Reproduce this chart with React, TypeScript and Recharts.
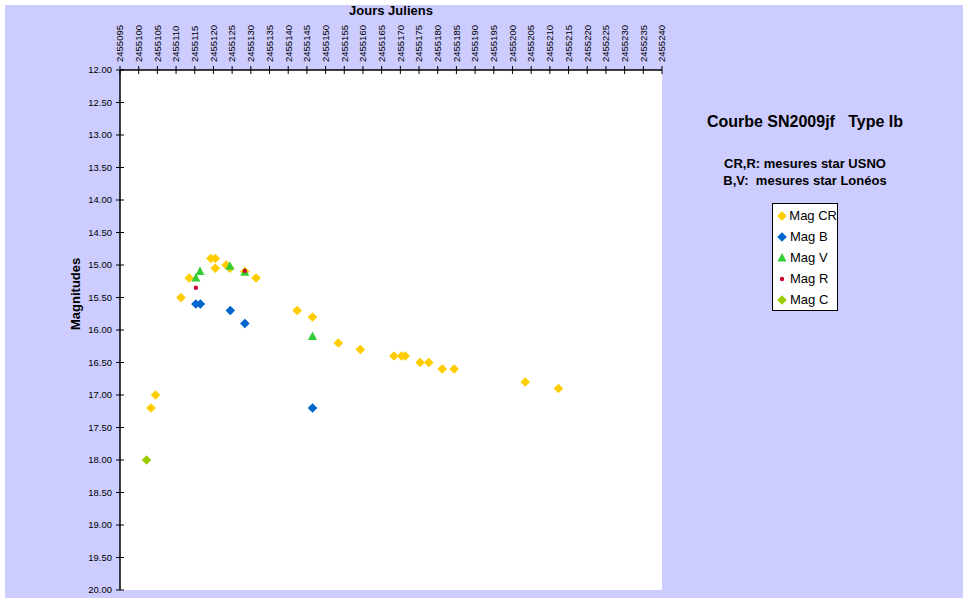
import React from 'react';
import { ScatterChart, Scatter, XAxis, YAxis, CartesianGrid, Legend } from 'recharts';

// Julian days / magnitudes per filter
const crDays = [2455103.3, 2455104.5, 2455111.3, 2455113.5, 2455119.3, 2455120.5, 2455120.5, 2455123.4, 2455124.4, 2455128.4, 2455131.4, 2455142.4, 2455146.5, 2455153.4, 2455159.3, 2455168.3, 2455170.3, 2455171.3, 2455175.3, 2455177.6, 2455181.2, 2455184.4, 2455203.4, 2455212.3];
const crMags = [17.2, 17.0, 15.5, 15.2, 14.9, 14.9, 15.05, 15.0, 15.05, 15.1, 15.2, 15.7, 15.8, 16.2, 16.3, 16.4, 16.4, 16.4, 16.5, 16.5, 16.6, 16.6, 16.8, 16.9];
const bDays = [2455115.3, 2455116.5, 2455124.5, 2455128.4, 2455146.5];
const bMags = [15.6, 15.6, 15.7, 15.9, 17.2];
const vDays = [2455115.3, 2455116.4, 2455124.4, 2455128.4, 2455146.5];
const vMags = [15.2, 15.1, 15.02, 15.11, 16.1];
const rDays = [2455115.3, 2455128.4];
const rMags = [15.35, 15.09];
const cDays = [2455102.1];
const cMags = [18.0];

const seriesNames = ['Mag CR', 'Mag B', 'Mag V', 'Mag R', 'Mag C'];
const dayTicks = [2455095, 2455100, 2455105, 2455110, 2455115, 2455120, 2455125, 2455130, 2455135, 2455140, 2455145, 2455150, 2455155, 2455160, 2455165, 2455170, 2455175, 2455180, 2455185, 2455190, 2455195, 2455200, 2455205, 2455210, 2455215, 2455220, 2455225, 2455230, 2455235, 2455240];
const magTicks = [12, 12.5, 13, 13.5, 14, 14.5, 15, 15.5, 16, 16.5, 17, 17.5, 18, 18.5, 19, 19.5, 20];

const toPoints = (days: number[], mags: number[]) => days.map((jd, i) => ({ jd, mag: mags[i] }));

const FONT = '"Liberation Sans", Arial, sans-serif';
const PLOT_LEFT = 120;
const PLOT_TOP = 70;

const colors: { [k: string]: string } = {
  'Mag CR': '#FFCC00',
  'Mag B': '#0066CC',
  'Mag V': '#33CC33',
  'Mag R': '#CC0033',
  'Mag C': '#99CC00',
};

const Marker = ({ name, cx, cy }: { name: string; cx: number; cy: number }) => {
  const c = colors[name];
  if (name === 'Mag V') {
    return <polygon points={`${cx},${cy - 5} ${cx + 4.5},${cy + 3.5} ${cx - 4.5},${cy + 3.5}`} fill={c} />;
  }
  if (name === 'Mag R') {
    return <circle cx={cx} cy={cy} r={2.2} fill={c} />;
  }
  return <polygon points={`${cx},${cy - 4.8} ${cx + 4.8},${cy} ${cx},${cy + 4.8} ${cx - 4.8},${cy}`} fill={c} />;
};

const shapeFor = (name: string) => (props: any) => <Marker name={name} cx={props.cx} cy={props.cy} />;

const DayTick = (props: any) => {
  const { x, payload } = props;
  return (
    <g>
      <line x1={x} x2={x} y1={PLOT_TOP - 4} y2={PLOT_TOP + 4} stroke="#000" />
      <text
        x={x}
        y={PLOT_TOP - 8}
        dy={3.3}
        transform={`rotate(-90 ${x} ${PLOT_TOP - 8})`}
        textAnchor="start"
        fontSize={9.5}
        fontFamily={FONT}
        fill="#000"
      >
        {payload.value}
      </text>
    </g>
  );
};

const MagTick = (props: any) => {
  const { y, payload } = props;
  return (
    <g>
      <line x1={PLOT_LEFT - 4} x2={PLOT_LEFT + 4} y1={y} y2={y} stroke="#000" />
      <text x={PLOT_LEFT - 8} y={y} dy={3.3} textAnchor="end" fontSize={9.5} fontFamily={FONT} fill="#000">
        {Number(payload.value).toFixed(2)}
      </text>
    </g>
  );
};

const LegendBox = (props: any) => {
  const entries = [...(props.payload || [])].sort(
    (a: any, b: any) => seriesNames.indexOf(a.value) - seriesNames.indexOf(b.value)
  );
  return (
    <div
      style={{
        background: '#fff',
        border: '1px solid #000',
        padding: '1px 0 0 4px',
        fontFamily: FONT,
        fontSize: 13,
        width: 60,
        whiteSpace: 'nowrap',
        color: '#000',
      }}
    >
      {entries.map((entry: any) => (
        <div key={entry.value} style={{ display: 'flex', alignItems: 'center', height: 21 }}>
          <svg width={12} height={12} style={{ marginRight: 1 }}>
            <Marker name={entry.value} cx={5} cy={6} />
          </svg>
          <span>{entry.value}</span>
        </div>
      ))}
    </div>
  );
};

const series = [
  { name: seriesNames[0], data: toPoints(crDays, crMags) },
  { name: seriesNames[1], data: toPoints(bDays, bMags) },
  { name: seriesNames[2], data: toPoints(vDays, vMags) },
  { name: seriesNames[3], data: toPoints(rDays, rMags) },
  { name: seriesNames[4], data: toPoints(cDays, cMags) },
];

const App: React.FC = () => {
  return (
    <div style={{ position: 'absolute', left: 0, top: 0, width: 970, height: 603, background: '#fff' }}>
      <div style={{ position: 'absolute', left: 5, top: 5, width: 958, height: 593, background: '#CCCCFF' }} />
      <div
        style={{
          position: 'absolute',
          left: 640,
          width: 330,
          top: 113,
          textAlign: 'center',
          fontFamily: FONT,
          fontWeight: 'bold',
          fontSize: 16,
          whiteSpace: 'pre',
          color: '#000',
        }}
      >
        {'Courbe SN2009jf   Type Ib'}
      </div>
      <div
        style={{
          position: 'absolute',
          left: 640,
          width: 330,
          top: 155,
          textAlign: 'center',
          fontFamily: FONT,
          fontWeight: 'bold',
          fontSize: 13,
          lineHeight: '17px',
          whiteSpace: 'pre',
          color: '#000',
        }}
      >
        {'CR,R: mesures star USNO\nB,V:  mesures star Lonéos'}
      </div>
      <div style={{ position: 'absolute', left: 0, top: 0 }}>
        <ScatterChart width={970} height={603} margin={{ top: 10, right: 308, bottom: 13, left: 60 }}>
          <CartesianGrid fill="#FFFFFF" horizontal={false} vertical={false} />
          <XAxis
            type="number"
            dataKey="jd"
            orientation="top"
            height={60}
            domain={[2455095, 2455240]}
            ticks={dayTicks}
            interval={0}
            allowDataOverflow
            tick={<DayTick />}
            tickLine={false}
            axisLine={{ stroke: '#000', strokeWidth: 1.5 }}
            label={{
              value: 'Jours Juliens',
              position: 'insideTop',
              offset: -4,
              fontSize: 13,
              fontWeight: 'bold',
              fontFamily: FONT,
              fill: '#000',
            }}
          />
          <XAxis
            xAxisId="frame"
            type="number"
            orientation="bottom"
            height={0}
            domain={[2455095, 2455240]}
            tick={false}
            tickLine={false}
            axisLine={{ stroke: '#808080' }}
          />
          <YAxis
            type="number"
            dataKey="mag"
            width={60}
            domain={[12, 20]}
            reversed
            ticks={magTicks}
            interval={0}
            allowDataOverflow
            tick={<MagTick />}
            tickLine={false}
            axisLine={{ stroke: '#000', strokeWidth: 1.5 }}
            label={{
              value: 'Magnitudes',
              angle: -90,
              position: 'insideLeft',
              offset: 15,
              fontSize: 13,
              fontWeight: 'bold',
              fontFamily: FONT,
              fill: '#000',
            }}
          />
          <YAxis
            yAxisId="frame"
            type="number"
            orientation="right"
            width={0}
            domain={[12, 20]}
            tick={false}
            tickLine={false}
            axisLine={{ stroke: '#808080' }}
          />
          <Legend
            layout="vertical"
            align="center"
            verticalAlign="middle"
            content={<LegendBox />}
            wrapperStyle={{ left: 772, top: 203, width: 66 }}
          />
          {series.map((s) => (
            <Scatter
              key={s.name}
              name={s.name}
              data={s.data}
              fill={colors[s.name]}
              shape={shapeFor(s.name)}
              isAnimationActive={false}
            />
          ))}
        </ScatterChart>
      </div>
    </div>
  );
};

export default App;
